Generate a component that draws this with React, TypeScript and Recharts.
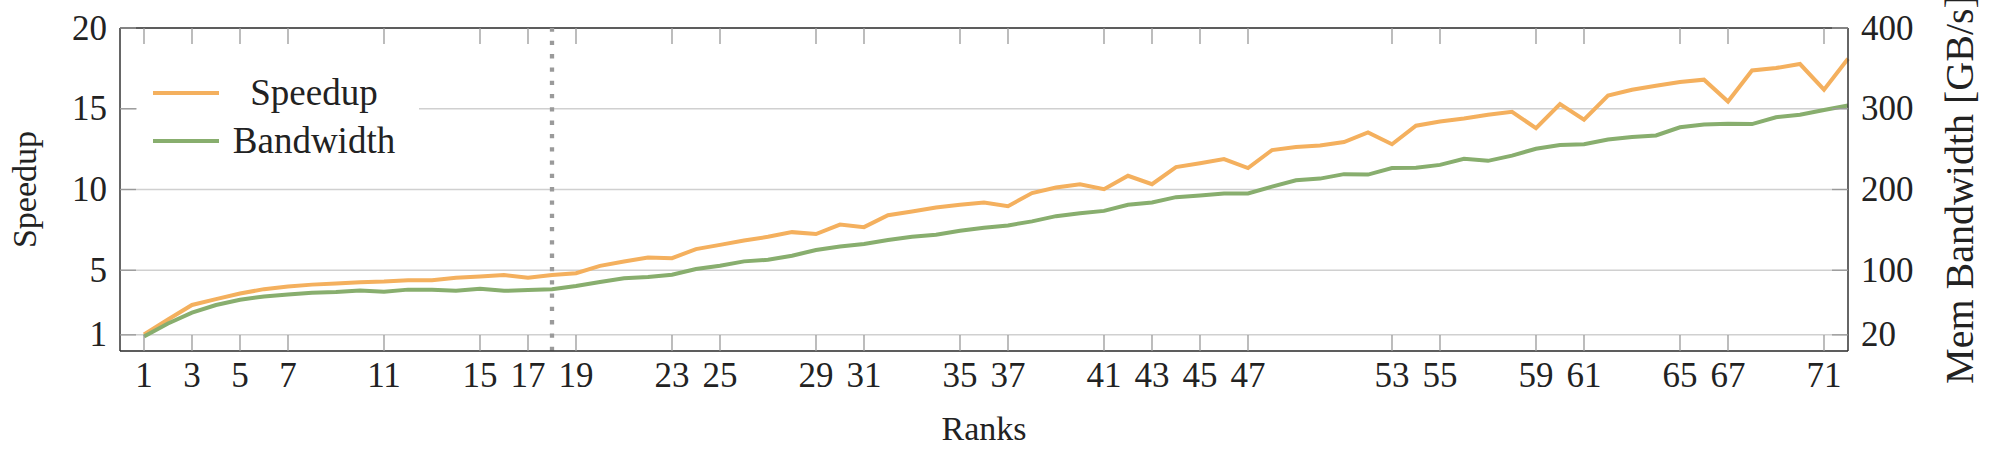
import { CartesianGrid, Label, Legend, Line, LineChart, ReferenceLine, XAxis, YAxis } from "recharts";

const ranks = [
  1, 2, 3, 4, 5, 6, 7, 8, 9, 10, 11, 12, 13, 14, 15, 16, 17, 18, 19, 20, 21, 22, 23, 24,
  25, 26, 27, 28, 29, 30, 31, 32, 33, 34, 35, 36, 37, 38, 39, 40, 41, 42, 43, 44, 45, 46, 47, 48,
  49, 50, 51, 52, 53, 54, 55, 56, 57, 58, 59, 60, 61, 62, 63, 64, 65, 66, 67, 68, 69, 70, 71, 72,
];

const speedup = [
  1.02, 1.95, 2.85, 3.21, 3.56, 3.83, 3.99, 4.11, 4.18, 4.26, 4.3, 4.38, 4.38, 4.53, 4.61, 4.7,
  4.53, 4.71, 4.82, 5.27, 5.54, 5.79, 5.75, 6.31, 6.57, 6.84, 7.07, 7.36, 7.24, 7.83, 7.67, 8.41,
  8.64, 8.89, 9.05, 9.19, 8.97, 9.78, 10.12, 10.33, 10.02, 10.85, 10.33, 11.39, 11.63, 11.88,
  11.33, 12.44, 12.63, 12.73, 12.94, 13.53, 12.8, 13.95, 14.21, 14.4, 14.63, 14.81, 13.8, 15.29,
  14.32, 15.82, 16.18, 16.42, 16.65, 16.8, 15.45, 17.37, 17.52, 17.77, 16.18, 18.1,
];

// GB/s
const bandwidth = [
  18, 34, 47.5, 57, 63.5, 67.5, 70, 72, 73, 75, 73.5, 76, 76, 74.5, 77, 74.5, 75.5, 76.5, 80.5,
  85.5, 90, 91.5, 94.5, 101.5, 105.5, 111, 113, 118, 125, 129.5, 132.5, 137.5, 141.5, 144, 149,
  152.5, 155.5, 160.5, 167, 170.5, 173.5, 181, 184, 190.5, 192.5, 195, 195, 203.5, 211.5, 213.5,
  219, 218.5, 226.5, 227, 230.5, 238, 235.5, 242, 250.5, 255, 256, 262, 265, 267, 277, 280.5,
  281.5, 281, 289.5, 292.5, 298.5, 304,
];

const seriesNames = ["Speedup", "Bandwidth"];
const xTicks = [1, 3, 5, 7, 11, 15, 17, 19, 23, 25, 29, 31, 35, 37, 41, 43, 45, 47, 53, 55, 59, 61, 65, 67, 71];
const speedupTicks = [1, 5, 10, 15, 20];
const bandwidthTicks = [20, 100, 200, 300, 400];
const splitRank = 18;

const data = ranks.map((rank, i) => ({ rank, speedup: speedup[i], bandwidth: bandwidth[i] }));

const W = 1990;
const H = 450;
const PLOT_TOP = 28;
const PLOT_BOTTOM = 351;
const PLOT_LEFT = 120;
const PLOT_RIGHT = 1848;

const FONT = "'Liberation Serif', 'Times New Roman', serif";
const INK = "#222";
const TICK = "#999";
const ORANGE = "#f4b05e";
const GREEN = "#88ae6e";

function XTick({ x, y, payload }: any) {
  return (
    <g>
      <line x1={x} x2={x} y1={y} y2={y - 16} stroke={TICK} strokeWidth={1.3} />
      <line x1={x} x2={x} y1={PLOT_TOP} y2={PLOT_TOP + 16} stroke={TICK} strokeWidth={1.3} />
      <text x={x} y={y + 36} textAnchor="middle" fontFamily={FONT} fontSize={35} fill={INK}>
        {payload.value}
      </text>
    </g>
  );
}

function LeftTick({ x, y, payload }: any) {
  return (
    <g>
      <line x1={x} x2={x + 16} y1={y} y2={y} stroke={TICK} strokeWidth={1.3} />
      <text x={x - 13} y={y + 11.5} textAnchor="end" fontFamily={FONT} fontSize={35} fill={INK}>
        {payload.value}
      </text>
    </g>
  );
}

function RightTick({ x, y, payload }: any) {
  return (
    <g>
      <line x1={x - 16} x2={x} y1={y} y2={y} stroke={TICK} strokeWidth={1.3} />
      <text x={x + 13} y={y + 11.5} textAnchor="start" fontFamily={FONT} fontSize={35} fill={INK}>
        {payload.value}
      </text>
    </g>
  );
}

function LegendBox({ payload }: any) {
  const items = [...(payload ?? [])].sort(
    (a: any, b: any) => seriesNames.indexOf(a.value) - seriesNames.indexOf(b.value)
  );
  return (
    <div style={{ background: "#fff", width: 282, padding: "7px 0" }}>
      {items.map((p: any) => (
        <div key={p.value} style={{ display: "flex", alignItems: "center", height: 48 }}>
          <span style={{ marginLeft: 16, width: 66, height: 4, background: p.color }} />
          <span
            style={{
              marginLeft: 10,
              width: 170,
              textAlign: "center",
              fontFamily: FONT,
              fontSize: 37,
              color: INK,
              lineHeight: "48px",
            }}
          >
            {p.value}
          </span>
        </div>
      ))}
    </div>
  );
}

const midY = (PLOT_TOP + PLOT_BOTTOM) / 2;
const midX = (PLOT_LEFT + PLOT_RIGHT) / 2;

export default function App() {
  return (
    <div style={{ position: "absolute", left: 0, top: 0, width: W, height: H, background: "#fff" }}>
      <LineChart
        width={W}
        height={H}
        data={data}
        margin={{ top: PLOT_TOP, right: 0, bottom: 0, left: 0 }}
      >
        <CartesianGrid yAxisId="left" vertical={false} stroke="#d0d0d0" strokeWidth={1.5} />
        <XAxis
          dataKey="rank"
          type="number"
          domain={[0, 72]}
          ticks={xTicks}
          interval={0}
          height={H - PLOT_BOTTOM}
          tickSize={0}
          tickMargin={0}
          tickLine={false}
          axisLine={{ stroke: "#333", strokeWidth: 1.5 }}
          tick={<XTick />}
        >
          <Label
            content={() => (
              <text x={midX} y={440} textAnchor="middle" fontFamily={FONT} fontSize={34} fill={INK}>
                Ranks
              </text>
            )}
          />
        </XAxis>
        <YAxis
          yAxisId="left"
          type="number"
          domain={[0, 20]}
          ticks={speedupTicks}
          interval={0}
          width={PLOT_LEFT}
          tickSize={0}
          tickMargin={0}
          tickLine={false}
          axisLine={{ stroke: "#333", strokeWidth: 1.5 }}
          tick={<LeftTick />}
        >
          <Label
            content={() => (
              <text
                x={36}
                y={midY}
                transform={`rotate(-90, 36, ${midY})`}
                textAnchor="middle"
                fontFamily={FONT}
                fontSize={34}
                fill={INK}
              >
                Speedup
              </text>
            )}
          />
        </YAxis>
        <YAxis
          yAxisId="right"
          orientation="right"
          type="number"
          domain={[0, 400]}
          ticks={bandwidthTicks}
          interval={0}
          width={W - PLOT_RIGHT}
          tickSize={0}
          tickMargin={0}
          tickLine={false}
          axisLine={{ stroke: "#333", strokeWidth: 1.5 }}
          tick={<RightTick />}
        >
          <Label
            content={() => (
              <text
                x={1973}
                y={midY}
                transform={`rotate(-90, 1973, ${midY})`}
                textAnchor="middle"
                fontFamily={FONT}
                fontSize={40}
                fill={INK}
              >
                Mem Bandwidth [GB/s]
              </text>
            )}
          />
        </YAxis>
        <ReferenceLine yAxisId="left" y={20} stroke="#333" strokeWidth={1.5} />
        <ReferenceLine
          yAxisId="left"
          x={splitRank}
          stroke="#9a9a9a"
          strokeWidth={4.3}
          strokeDasharray="4.3 9"
        />
        <Legend
          layout="vertical"
          align="center"
          verticalAlign="middle"
          content={<LegendBox />}
          wrapperStyle={{ position: "absolute", left: 137, top: 62, width: 282 }}
        />
        <Line
          yAxisId="left"
          type="linear"
          dataKey="speedup"
          name="Speedup"
          stroke={ORANGE}
          strokeWidth={4}
          dot={false}
          isAnimationActive={false}
        />
        <Line
          yAxisId="right"
          type="linear"
          dataKey="bandwidth"
          name="Bandwidth"
          stroke={GREEN}
          strokeWidth={4}
          dot={false}
          isAnimationActive={false}
        />
      </LineChart>
    </div>
  );
}
